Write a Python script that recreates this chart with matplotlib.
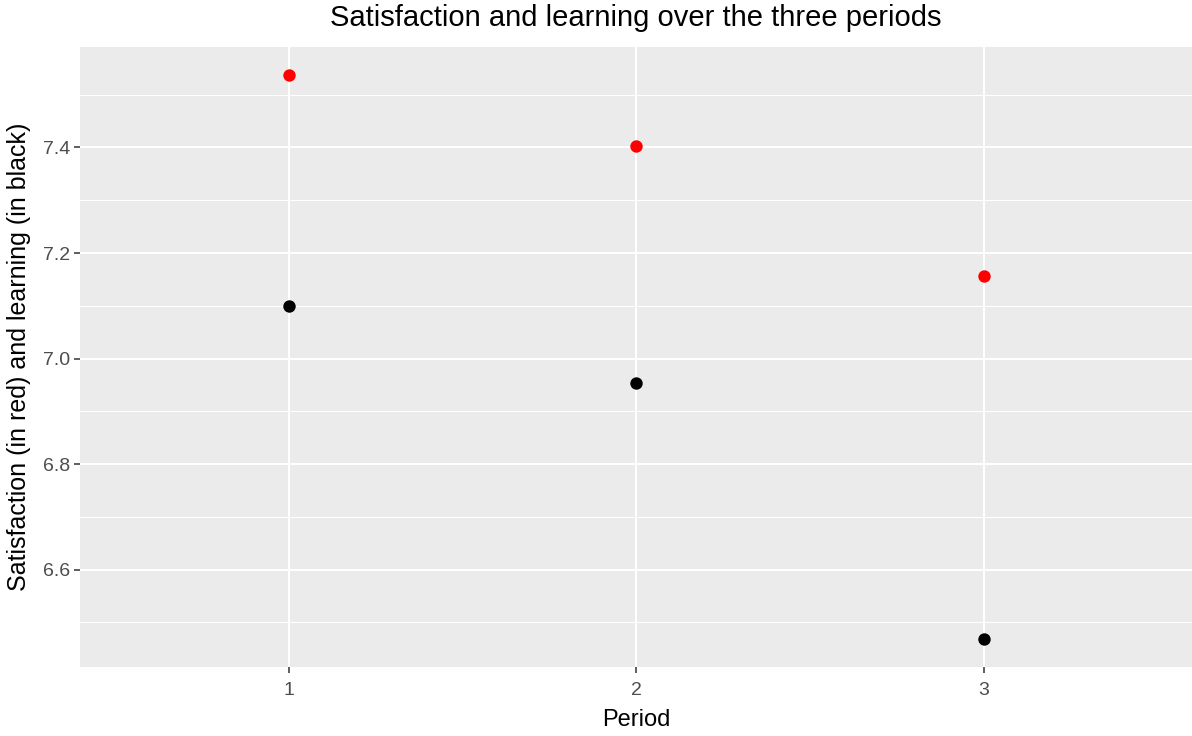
import matplotlib
matplotlib.use("Agg")
import matplotlib.pyplot as plt
from matplotlib.ticker import MultipleLocator

# data
periods = [1, 2, 3]
satisfaction = [7.537, 7.402, 7.156]
learning = [7.100, 6.953, 6.469]
period_labels = ["1", "2", "3"]

plt.rcParams["font.family"] = ["Liberation Sans", "DejaVu Sans"]

fig = plt.figure(figsize=(11.92, 7.36), dpi=100)
ax = fig.add_axes([80 / 1192, 1 - 667 / 736, 1112 / 1192, 620 / 736])

ax.set_facecolor("#EBEBEB")
for spine in ax.spines.values():
    spine.set_visible(False)

# ggplot-ish limits: discrete x (0.6 pad), 5% y expansion
all_y = satisfaction + learning
lo, hi = min(all_y), max(all_y)
pad = (hi - lo) * 0.05
ax.set_ylim(lo - pad, hi + pad)
ax.set_xlim(0.4, 3.6)

ax.yaxis.set_major_locator(MultipleLocator(0.2))
ax.yaxis.set_minor_locator(MultipleLocator(0.1))
ax.set_xticks(periods)
ax.set_xticklabels(period_labels)

ax.grid(which="major", color="white", linewidth=1.5)
ax.grid(which="minor", axis="y", color="white", linewidth=0.75)
ax.set_axisbelow(True)

ax.tick_params(axis="both", which="major", colors="#333333", labelcolor="#4D4D4D",
               labelsize=14, length=4, width=1.1, pad=3)
ax.tick_params(axis="x", which="major", pad=7)
ax.tick_params(axis="y", which="minor", length=0)

ax.scatter(periods, satisfaction, s=80, color="#FF0000", zorder=3, linewidths=0)
ax.scatter(periods, learning, s=80, color="black", zorder=3, linewidths=0)

ax.set_xlabel("Period", fontsize=17, labelpad=7)
ax.set_ylabel("Satisfaction (in red) and learning (in black)", fontsize=18, labelpad=9)
ax.set_title("Satisfaction and learning over the three periods", fontsize=21, pad=15)

fig.savefig("out.png", dpi=100)
